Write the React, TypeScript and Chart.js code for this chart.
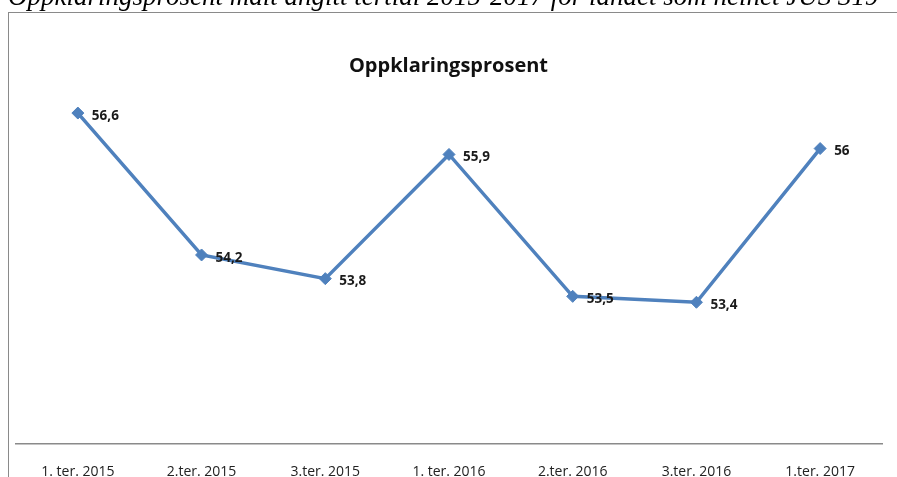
import React, { useEffect, useRef } from "react";
import { Chart, registerables } from "chart.js";

Chart.register(...registerables);

const caption = "Oppklaringsprosent målt angitt tertial 2015-2017 for landet som helhet JUS 319";
const chartTitle = "Oppklaringsprosent";
const categories = ["1. ter. 2015", "2.ter. 2015", "3.ter. 2015", "1. ter. 2016", "2.ter. 2016", "3.ter. 2016", "1.ter. 2017"];
const values = [56.6, 54.2, 53.8, 55.9, 53.5, 53.4, 56];
const valueLabels = ["56,6", "54,2", "53,8", "55,9", "53,5", "53,4", "56"];
const yMin = 51;
const yMax = 57;

const labelPlugin = {
  id: "valueLabels",
  afterDatasetsDraw(chart: any) {
    const ctx = chart.ctx;
    const meta = chart.getDatasetMeta(0);
    ctx.save();
    ctx.font = "bold 13.5px 'Open Sans'";
    ctx.fillStyle = "#1a1a1a";
    ctx.textAlign = "left";
    ctx.textBaseline = "middle";
    meta.data.forEach((pt: any, i: number) => {
      ctx.fillText(valueLabels[i], pt.x + 14, pt.y + 3);
    });
    ctx.restore();
  },
};

export default function App() {
  const ref = useRef<HTMLCanvasElement>(null);
  useEffect(() => {
    const chart = new Chart(ref.current!, {
      type: "line",
      data: {
        labels: categories,
        datasets: [
          {
            data: values,
            borderColor: "#4F81BD",
            backgroundColor: "#4F81BD",
            borderWidth: 3.5,
            pointStyle: "rectRot",
            pointRadius: 6,
            pointBorderWidth: 1,
            pointBackgroundColor: "#4F81BD",
            pointBorderColor: "#4F81BD",
            tension: 0,
          },
        ],
      },
      options: {
        animation: false,
        responsive: false,
        maintainAspectRatio: false,
        layout: { padding: { left: 6, right: 15, top: 0, bottom: 0 } },
        plugins: {
          legend: { display: false },
          tooltip: { enabled: false },
          title: {
            display: true,
            text: chartTitle,
            color: "#111",
            font: { family: "'Open Sans'", size: 20, weight: "bold" },
            padding: { top: 41, bottom: 11.4 },
          },
        },
        scales: {
          x: {
            offset: true,
            grid: { display: false, drawTicks: false },
            border: { display: true, color: "#8a8a8a", width: 1.5 },
            ticks: {
              color: "#222",
              font: { family: "'Open Sans'", size: 14 },
              padding: 19,
              maxRotation: 0,
              autoSkip: false,
            },
          },
          y: {
            display: false,
            min: yMin,
            max: yMax,
          },
        },
      },
      plugins: [labelPlugin],
    });
    return () => chart.destroy();
  }, []);

  return (
    <div>
      <div
        style={{
          position: "fixed",
          left: 8,
          top: -17,
          fontFamily: "'Liberation Serif', serif",
          fontStyle: "italic",
          fontSize: 27,
          lineHeight: "27px",
          whiteSpace: "nowrap",
          color: "#000",
        }}
      >
        {caption}
      </div>
      <div
        style={{
          position: "fixed",
          left: 8,
          top: 12,
          width: 1000,
          height: 600,
          borderLeft: "1px solid #8a8a8a",
          borderTop: "1px solid #8a8a8a",
          background: "#fff",
        }}
      />
      <canvas
        ref={ref}
        width={888}
        height={486}
        style={{ position: "fixed", left: 9, top: 13, width: 888, height: 486 }}
      />
    </div>
  );
}
